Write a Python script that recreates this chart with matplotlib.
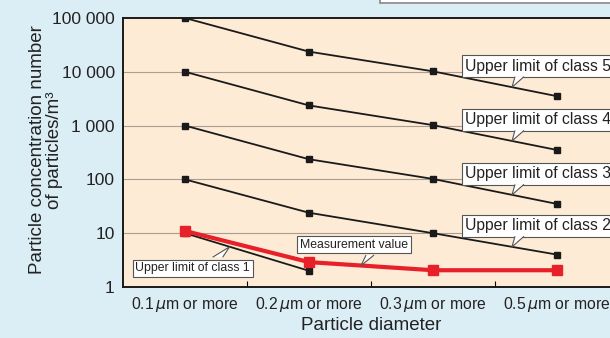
import numpy as np
import matplotlib
matplotlib.use("Agg")
import matplotlib.pyplot as plt
from matplotlib.patches import Rectangle, Polygon
from matplotlib.transforms import ScaledTranslation, IdentityTransform

plt.rcParams['font.family'] = ['Liberation Sans', 'DejaVu Sans']

# data
sizes = ["0.1$\\,\\mu$m or more", "0.2$\\,\\mu$m or more", "0.3$\\,\\mu$m or more", "0.5$\\,\\mu$m or more"]
class5 = [100000, 23700, 10200, 3520]
class4 = [10000, 2370, 1020, 352]
class3 = [1000, 237, 102, 35]
class2 = [100, 24, 10, 4]
class1 = [10, 2]
measured = [11, 2.9, 2.05, 2.05]
yticks = [1, 10, 100, 1000, 10000, 100000]
ytick_labels = ["1", "10", "100", "1 000", "10 000", "100 000"]

W, H = 610, 338
fig = plt.figure(figsize=(W / 100, H / 100), dpi=100)
fig.patch.set_facecolor('#dceef5')

ax = fig.add_axes([123 / W, (H - 287) / H, 496 / W, (287 - 18) / H])
ax.set_facecolor('#fdebd6')

x = np.arange(len(sizes)) + 0.5

for d in yticks[1:-1]:
    ax.axhline(d, color='#aa9e90', lw=0.8, zorder=1)

for vals in [class5, class4, class3, class2, class1]:
    ax.plot(x[:len(vals)], vals, color='#1a1a1a', lw=1.3, marker='s', ms=4.5, zorder=3)
ax.plot(x, measured, color='#e8202a', lw=3.0, marker='s', ms=7, zorder=4)

ax.set_yscale('log')
ax.set_ylim(1, 100000)
ax.set_xlim(0, 4)
ax.set_yticks(yticks)
ax.set_yticklabels(ytick_labels, fontsize=12.5)
ax.yaxis.set_minor_locator(matplotlib.ticker.NullLocator())
ax.tick_params(axis='y', length=0, pad=6, colors='#222222')
ax.set_xticks(x)
ax.set_xticklabels(sizes, fontsize=11.3)
ax.set_xticks([1, 2, 3], minor=True)
ax.tick_params(axis='x', which='major', length=0, pad=6, colors='#222222')
ax.tick_params(axis='x', which='minor', direction='in', length=4, width=0.8)
for s in ['left', 'bottom', 'top']:
    ax.spines[s].set_linewidth(1.4)
    ax.spines[s].set_color('#1a1a1a')
ax.spines['right'].set_visible(False)

ax.set_xlabel("Particle diameter", fontsize=13.5, color='#222222', labelpad=2)
# y label sits partly beside the short tick labels, as in the original
fig.text(46 / W, 1 - 150 / H, "Particle concentration number\nof particles/m³",
         rotation=90, ha='center', va='center', multialignment='center',
         fontsize=13.5, color='#222222', linespacing=0.95)


def tip(vals, i, t):
    # point on a line segment (log interpolation) between category i and i+1
    lv = (1 - t) * np.log10(vals[i]) + t * np.log10(vals[i + 1])
    return (x[i] + t, 10 ** lv)


def callout(text, xy, off, fs, ha, tail):
    # off: text offset in pixels (image y downwards); tail: (x1, x2, ybase) pixels from tip
    tr = ax.transData + ScaledTranslation(off[0] / 100, -off[1] / 100, fig.dpi_scale_trans)
    ax.text(xy[0], xy[1], text, transform=tr, ha=ha, va='center', fontsize=fs,
            color='#222222', zorder=6, clip_on=False,
            bbox=dict(boxstyle='square,pad=0.22', fc='white', ec='#555555', lw=0.8))
    px, py = ax.transData.transform(xy)
    x1, x2, yb = tail
    pts = [(px + x1, py - yb), (px, py), (px + x2, py - yb)]
    ax.add_patch(Polygon(pts, closed=True, fc='white', ec='none', transform=IdentityTransform(),
                         zorder=7, clip_on=False))
    ax.add_patch(Polygon(pts, closed=False, fill=False, ec='#555555', lw=0.8,
                         transform=IdentityTransform(), zorder=7, clip_on=False))


for i, vals in enumerate([class5, class4, class3, class2]):
    callout("Upper limit of class %d" % (5 - i), tip(vals, 2, 0.637), (-47, -21), 11.3, 'left',
            (3, 12, -10.5))
callout("Measurement value", tip(measured, 1, 0.42), (-7, -21), 8.8, 'center', (5, 13, -10.5))
callout("Upper limit of class 1", tip(class1, 0, 0.36), (-37, 21.5), 8.8, 'center', (-17, -7, 10.5))

# partial frame at top right
fig.add_artist(Rectangle((380 / W, 1 - 3 / H), 0.5, 0.1, transform=fig.transFigure,
                         fc='white', ec='#888888', lw=1.2))

fig.savefig("out.png", dpi=100)
